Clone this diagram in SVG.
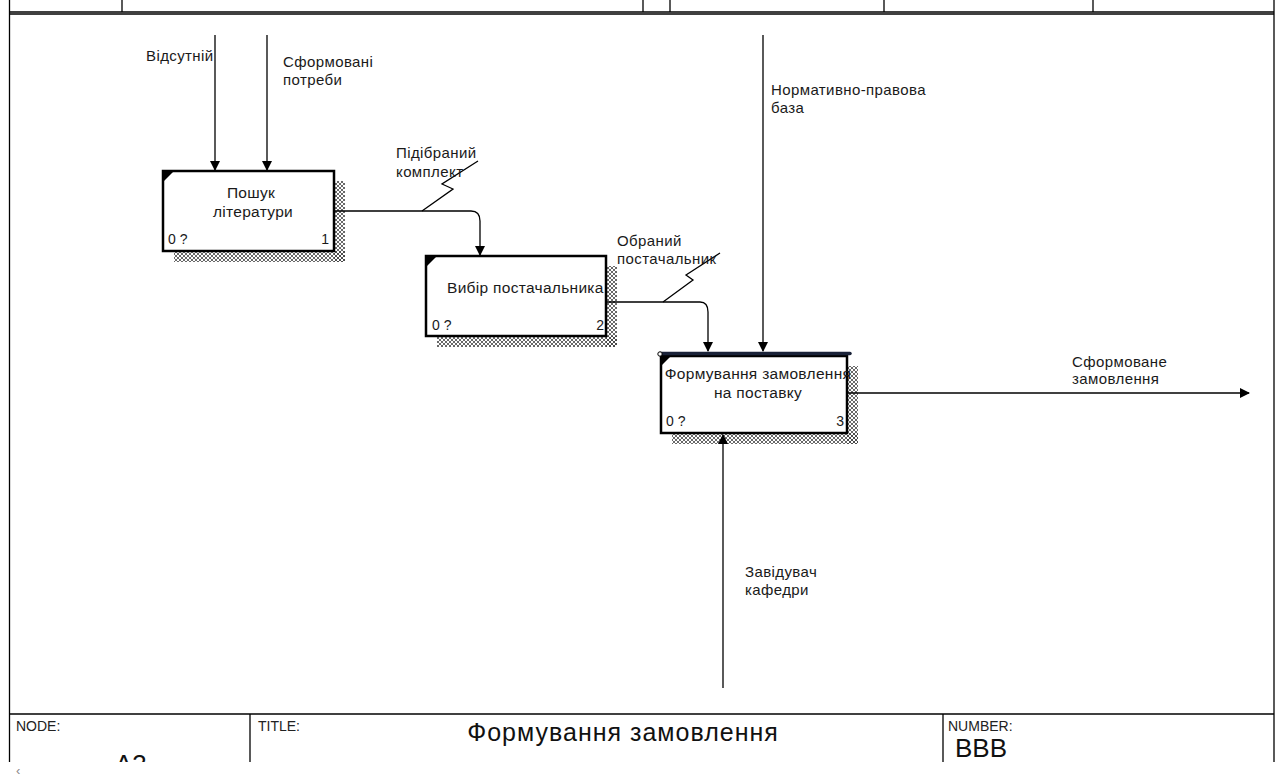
<svg xmlns="http://www.w3.org/2000/svg" width="1277" height="778" viewBox="0 0 1277 778">
<style>
.t{font-family:"Liberation Sans",Arial,sans-serif;font-size:15px;letter-spacing:0.4px;fill:#1a1a1a}
.n{font-family:"Liberation Sans",Arial,sans-serif;font-size:14px;fill:#1a1a1a}
.bt{font-family:"Liberation Sans",Arial,sans-serif;font-size:15.5px;letter-spacing:0.3px;fill:#1a1a1a}
.box{fill:#fff;stroke:#000;stroke-width:2.5}
.ln{fill:none;stroke:#000;stroke-width:1.3}
.fr{fill:none;stroke:#000;stroke-width:1.3}
.ft{font-family:"Liberation Sans",Arial,sans-serif;font-size:14px;fill:#222}
.sh{fill:url(#hatch)}
</style>
<defs>
<pattern id="hatch" width="4" height="4" patternUnits="userSpaceOnUse">
<path d="M0,0 L4,4 M4,0 L0,4" stroke="#444" stroke-width="0.8"/>
</pattern>
<marker id="ah" markerWidth="10" markerHeight="10" refX="9" refY="5" orient="auto" markerUnits="userSpaceOnUse">
<path d="M0,0 L10,5 L0,10 Z" fill="#000"/>
</marker>
<clipPath id="clipA3"><rect x="0" y="0" width="1277" height="762"/></clipPath>
</defs>
<rect width="1277" height="778" fill="#fff"/>
<g id="frame">
<line class="fr" x1="9.5" y1="0" x2="9.5" y2="762" stroke-width="3"/>
<line class="fr" x1="1274" y1="0" x2="1274" y2="762"/>
<line class="fr" x1="10" y1="12" x2="1274" y2="12"/>
<line class="fr" x1="10" y1="14" x2="1274" y2="14"/>
<line class="fr" x1="122" y1="0" x2="122" y2="12"/>
<line class="fr" x1="643" y1="0" x2="643" y2="12"/>
<line class="fr" x1="670" y1="0" x2="670" y2="12"/>
<line class="fr" x1="884" y1="0" x2="884" y2="12"/>
<line class="fr" x1="1093" y1="0" x2="1093" y2="12"/>
<line class="fr" x1="10" y1="714" x2="1274" y2="714" stroke-width="1.8"/>
<line class="fr" x1="250" y1="714" x2="250" y2="762"/>
<line class="fr" x1="943" y1="714" x2="943" y2="762"/>
<text class="ft" x="16" y="731">NODE:</text>
<text class="ft" x="258" y="731">TITLE:</text>
<text class="ft" x="948" y="731">NUMBER:</text>
<text x="623" y="741" text-anchor="middle" font-family="Liberation Sans,Arial,sans-serif" font-size="25" letter-spacing="1" fill="#111">Формування замовлення</text>
<text x="955" y="757" font-family="Liberation Sans,Arial,sans-serif" font-size="26" fill="#111">BBB</text>
<text x="115" y="773" clip-path="url(#clipA3)" font-family="Liberation Sans,Arial,sans-serif" font-size="26" fill="#111">A3</text>
<text x="16" y="775" font-family="Liberation Sans,Arial,sans-serif" font-size="13" fill="#888">‹</text>
</g>
<g id="node1">
<rect class="sh" x="334" y="181" width="11" height="81"/>
<rect class="sh" x="174" y="251" width="171" height="11"/>
<rect class="box" x="163" y="171" width="171" height="80"/>
<path d="M164,172 L173,172 L164,181 Z" fill="#000"/>
<text class="bt" x="251" y="198" text-anchor="middle">Пошук</text>
<text class="bt" x="253" y="217" text-anchor="middle">літератури</text>
<text class="n" x="168" y="244">0 ?</text>
<text class="n" x="329" y="244" text-anchor="end">1</text>
</g>
<g id="node2">
<rect class="sh" x="606" y="266" width="11" height="81"/>
<rect class="sh" x="437" y="336" width="180" height="11"/>
<rect class="box" x="426" y="256" width="180" height="80"/>
<path d="M427,257 L436,257 L427,266 Z" fill="#000"/>
<text class="bt" x="447" y="293">Вибір постачальника</text>
<text class="n" x="432" y="330">0 ?</text>
<text class="n" x="604" y="330" text-anchor="end">2</text>
</g>
<g id="node3">
<rect class="sh" x="847" y="366" width="11" height="78"/>
<rect class="sh" x="672" y="433" width="186" height="11"/>
<rect class="box" x="661" y="356" width="186" height="77"/>
<path d="M662,357 L670,357 L662,365 Z" fill="#000"/>
<path d="M660,353.5 H850" stroke="#1a2238" stroke-width="3.5" stroke-linecap="round" fill="none"/>
<circle cx="660" cy="354" r="2.2" fill="#fff" stroke="#000" stroke-width="1"/>
<text class="bt" x="758" y="379" text-anchor="middle">Формування замовлення</text>
<text class="bt" x="758" y="398" text-anchor="middle">на поставку</text>
<text class="n" x="666" y="426">0 ?</text>
<text class="n" x="844" y="426" text-anchor="end">3</text>
</g>
<g id="connectors">
<line class="ln" x1="215" y1="35" x2="215" y2="170" marker-end="url(#ah)"/>
<line class="ln" x1="267" y1="35" x2="267" y2="170" marker-end="url(#ah)"/>
<path class="ln" d="M335,211 H471 Q480,211 480,221 V255" marker-end="url(#ah)"/>
<polyline class="ln" points="422,211 453,189 442,184 478,161"/>
<path class="ln" d="M607,302 H700 Q708,302 708,312 V351" marker-end="url(#ah)"/>
<polyline class="ln" points="663,302 693,280 686,275 720,253"/>
<line class="ln" x1="763" y1="35" x2="763" y2="351" marker-end="url(#ah)"/>
<line class="ln" x1="848" y1="393" x2="1249" y2="393" marker-end="url(#ah)"/>
<line class="ln" x1="723" y1="688" x2="723" y2="435" marker-end="url(#ah)"/>
<text class="t" x="146" y="61">Відсутній</text>
<text class="t" x="283" y="67">Сформовані</text>
<text class="t" x="283" y="85">потреби</text>
<text class="t" x="396" y="158">Підібраний</text>
<text class="t" x="396" y="177">комплект</text>
<text class="t" x="617" y="246">Обраний</text>
<text class="t" x="617" y="264">постачальник</text>
<text class="t" x="771" y="95">Нормативно-правова</text>
<text class="t" x="771" y="113">база</text>
<text class="t" x="1072" y="367">Сформоване</text>
<text class="t" x="1072" y="384">замовлення</text>
<text class="t" x="745" y="577">Завідувач</text>
<text class="t" x="745" y="595">кафедри</text>
</g>
</svg>
